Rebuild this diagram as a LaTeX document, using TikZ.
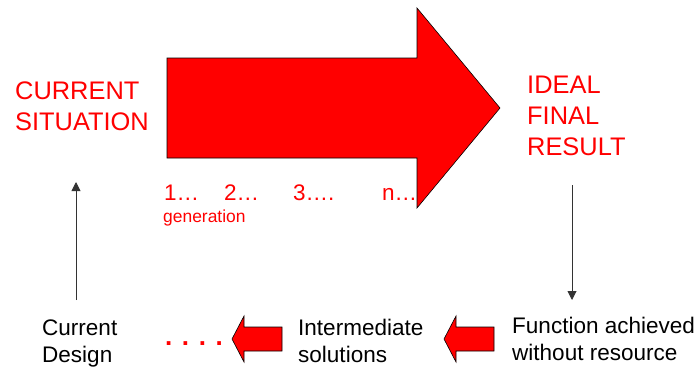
\documentclass[tikz,border=0pt]{standalone}
\usepackage{fontspec}
\setmainfont{Liberation Sans}
\usetikzlibrary{math}
\usetikzlibrary{arrows.meta}

\begin{document}
\begin{tikzpicture}[x=1bp, y=-1bp,
	redtext/.style={text=red, inner sep=0, align=left},
	blacktext/.style={text=black, inner sep=0, align=left},
	bigfont/.style={font=\fontsize{25.5}{31}\selectfont},
	smallfont/.style={font=\fontsize{22.6}{27}\selectfont},
	conn/.style={draw=black!80, line width=0.9bp, -{Triangle[length=9bp, width=9bp]}},
	redarrow/.style={fill=red, draw=black, line width=0.6bp, line join=miter}]
	% Constants
	\tikzmath{
		\bodytop = 58; \bodybot = 158; \bodyleft = 167;
		\headx = 417; \headtop = 8; \headbot = 208; \tipx = 500;
		\smally = 339; \smallhead = 12; \smalllen = 50;
	}
	\useasboundingbox (0,0) rectangle (699,366);

	\begin{scope}
		% Generation steps
		\foreach \lbl/\xpos [count=\k] in {1…/164, 2…/224, 3…./293, n…/382} {
			\node[redtext, smallfont, anchor=base west] (gen\k) at (\xpos, 200) {\lbl};
		}
		\node[redtext, font=\fontsize{17.5}{20}\selectfont, anchor=base west] (genlabel) at (163, 222) {generation};

		% Main arrow
		\draw[redarrow] (\bodyleft, \bodytop) -- (\headx, \bodytop) -- (\headx, \headtop)
			-- (\tipx, {(\headtop + \headbot)/2}) -- (\headx, \headbot) -- (\headx, \bodybot)
			-- (\bodyleft, \bodybot) -- cycle;

		% States (base = last line)
		\node[redtext, bigfont, anchor=base west] (current) at (15, 130) {CURRENT\\SITUATION};
		\node[redtext, bigfont, anchor=base west] (ideal) at (527, 155) {IDEAL\\FINAL\\RESULT};
		\node[blacktext, smallfont, anchor=base west] (design) at (42, 362) {Current\\Design};
		\node[blacktext, smallfont, anchor=base west] (inter) at (298, 362) {Intermediate\\solutions};
		\node[blacktext, smallfont, anchor=base west] (func) at (512, 360) {Function achieved\\without resource};
		\node[redtext, font=\fontsize{26}{30}\bfseries, anchor=base west] (dots) at (165, 345) {. . . .};

		% Small arrows between solutions
		\foreach \tx in {232, 444} {
			\draw[redarrow] (\tx, \smally) -- (\tx + \smallhead, \smally - 23) -- (\tx + \smallhead, \smally - 12)
				-- (\tx + \smalllen, \smally - 12) -- (\tx + \smalllen, \smally + 12)
				-- (\tx + \smallhead, \smally + 12) -- (\tx + \smallhead, \smally + 23) -- cycle;
		}

		% Vertical connectors
		\coordinate (designtop) at (76, 300);
		\coordinate (currentbot) at (76, 182);
		\coordinate (idealbot) at (572, 185);
		\coordinate (functop) at (572, 300);
		\draw[conn] (designtop) -- (currentbot);
		\draw[conn] (idealbot) -- (functop);
	\end{scope}
\end{tikzpicture}
\end{document}
